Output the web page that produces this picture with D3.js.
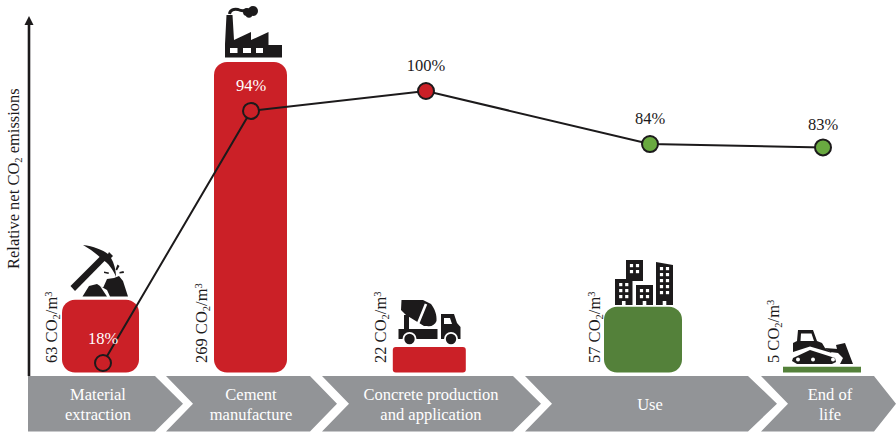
<!DOCTYPE html>
<html><head><meta charset="utf-8">
<script src="https://cdn.jsdelivr.net/npm/d3@7/dist/d3.min.js"></script>
<style>
html,body{margin:0;padding:0;background:#fff}
svg{display:block}
text{font-family:"Liberation Serif","Times New Roman",serif}
</style></head><body><svg id="c" width="896" height="432"></svg>
<script>
// ---- data ----
const stages = ["Material extraction","Cement manufacture","Concrete production and application","Use","End of life"];
const stageLines = [["Material","extraction"],["Cement","manufacture"],["Concrete production","and application"],["Use"],["End of","life"]];
const emissions = [63,269,22,57,5];
const relative = [18,94,100,84,83];
const barKinds = ["emit","emit","emit","saving","saving"];
const nodeKinds = ["emit","emit","emit","saving","saving"];
const yAxisWords = ["Relative net CO","2"," emissions"];

// ---- layout ----
const RED="#cb2027", GREEN="#54813a", NODEGREEN="#69a940", GREY="#929497", INK="#1c1a1b";
const color = d3.scaleOrdinal(["emit","saving"],[RED,GREEN]);
const nodeColor = d3.scaleOrdinal(["emit","saving"],[RED,NODEGREEN]);
const barCenter = d3.scaleOrdinal(stages,[100.5,250.5,429.3,643,822]);
const barWidth = d3.scaleOrdinal(stages,[77,73,73,78,78]);
const nodeX = d3.scaleOrdinal(stages,[103,251,426,650,823]);
const unitLabelX = d3.scaleOrdinal(stages,[57,207,386,600,779]);
const yBar = d3.scaleLinear().domain([0,269]).range([372.5,62]);
const yPct = d3.scaleLinear().domain([18,100]).range([363,91]);
const pctLabelY = d3.scaleOrdinal(stages,[344,91,71,124,130]);
const chevY=[376,431.5], chevMid=403.7;
// [left top x, notch x, right top x, tip x]
const chevGeom=[[28,28,155,183],[166,193,310,337],[322,349,513,541],[525,552,748,777],[761,788,874,896]];
const chevTextX=[98,251,431,650,830];
const FS=16.5;

const svg=d3.select("#c");

// chevrons
const chev=svg.append("g");
chevGeom.forEach((g,i)=>{
  chev.append("path").attr("fill",GREY)
    .attr("d",d3.line()([[g[0],chevY[0]],[g[2],chevY[0]],[g[3],chevMid],[g[2],chevY[1]],[g[0],chevY[1]],[g[1],chevMid]])+"Z");
  const L=stageLines[i];
  L.forEach((t,k)=>{
    chev.append("text").attr("x",chevTextX[i]).attr("text-anchor","middle")
      .attr("y",L.length==1?410:400+k*20).attr("font-size",FS).attr("fill","#fff").text(t);
  });
});

// axis
svg.append("path").attr("d","M29 376V24").attr("stroke",INK).attr("stroke-width",2.6).attr("fill","none");
svg.append("path").attr("d","M29 16L33.5 25H24.5Z").attr("fill",INK);
const yt=svg.append("text").attr("transform","translate(19,269) rotate(-90)").attr("font-size",FS).attr("fill",INK);
yt.append("tspan").text(yAxisWords[0]);
yt.append("tspan").attr("dy",3).attr("font-size",10.5).text(yAxisWords[1]);
yt.append("tspan").attr("dy",-3).text(yAxisWords[2]);

// bars
svg.append("g").selectAll("rect").data(stages).join("rect")
  .attr("x",d=>barCenter(d)-barWidth(d)/2)
  .attr("width",d=>barWidth(d))
  .attr("y",(d,i)=>yBar(emissions[i]))
  .attr("height",(d,i)=>yBar(0)-yBar(emissions[i]))
  .attr("rx",(d,i)=>{const h=yBar(0)-yBar(emissions[i]);return h>50?13:h>20?3:0;})
  .attr("fill",(d,i)=>color(barKinds[i]));

// unit labels
stages.forEach((s,i)=>{
  const t=svg.append("text").attr("transform",`translate(${unitLabelX(s)},363) rotate(-90)`).attr("font-size",FS).attr("fill",INK);
  t.append("tspan").text(emissions[i]+" CO");
  t.append("tspan").attr("dy",3).attr("font-size",10.5).text("2");
  t.append("tspan").attr("dy",-3).text("/m");
  t.append("tspan").attr("dy",-5).attr("font-size",10.5).text("3");
});

// line + nodes
svg.append("path").attr("fill","none").attr("stroke",INK).attr("stroke-width",2)
  .attr("d",d3.line().x(d=>nodeX(d.s)).y(d=>yPct(d.v))(stages.map((s,i)=>({s,v:relative[i]}))));
svg.append("g").selectAll("circle").data(stages).join("circle")
  .attr("cx",d=>nodeX(d)).attr("cy",(d,i)=>yPct(relative[i])).attr("r",8)
  .attr("stroke",INK).attr("stroke-width",2)
  .attr("fill",(d,i)=>nodeColor(nodeKinds[i]));
svg.append("g").selectAll("text").data(stages).join("text")
  .attr("x",d=>nodeX(d)).attr("y",d=>pctLabelY(d))
  .attr("text-anchor","middle").attr("font-size",FS)
  .attr("fill",(d,i)=>i<2?"#fff":INK).text((d,i)=>relative[i]+"%");

// ---- icons (decoration) ----
const ic=svg.append("g").attr("fill",INK);
// pickaxe
ic.append("path").attr("d","M70.5 286L102 254.5L106.5 259L75 291Z");
ic.append("path").attr("d","M83 245C93 246 103 250 108 254L109 252L113 256L111 258C114 263 116 270 116 277C113 269 108 263 103 260C97 254 90 249 83 245Z");
ic.append("path").attr("d","M82.5 296.5L89 286L97 284L103 288L107 279L114 278L119 276L123 281L128 296.5H110L107 290L100 286L107 296.5Z");
ic.append("path").attr("d","M117.5 264.5L119.5 266L117 270.5L115.5 269.5Z M123.5 271L124 273L119.5 273.5L119.5 272Z M104 271.5L109 272.5L108.5 274L104 273Z");
// factory
ic.append("path").attr("fill-rule","evenodd").attr("d","M225 57.5V44L226.5 15H232.5L234 40L251 32V40L268.5 32V45H282V57.5Z M230 48V53H237.5V48Z M243 48V53H251V48Z M256 48V53H263V48Z");
ic.append("path").attr("fill","none").attr("stroke",INK).attr("stroke-width",3).attr("d","M229.5 14C230 10 234 8.5 238 9.5C241 11 244 11 247 10");
ic.append("circle").attr("cx",253).attr("cy",11).attr("r",5);
ic.append("circle").attr("cx",247).attr("cy",12).attr("r",4);
ic.append("circle").attr("cx",249).attr("cy",14.5).attr("r",3.2);
// truck
ic.append("path").attr("d","M401.5 300H423L431 304C435 309 437 315 436.5 321C435 325 431 327 427 326L424 326L406 315L401 310Z");
ic.append("path").attr("stroke","#fff").attr("stroke-width",2.6).attr("d","M426 304L417 326");
ic.append("path").attr("d","M404 315H409L409 329H404Z");
ic.append("path").attr("d","M398.5 329H437.5V339H398.5Z");
ic.append("path").attr("fill-rule","evenodd").attr("d","M441 314H454L457 323L460.5 327V339H441Z M444 318V324H452L450 318Z");
[409.5,451].forEach(x=>{
  ic.append("circle").attr("cx",x).attr("cy",339).attr("r",7).attr("fill","#fff");
  ic.append("circle").attr("cx",x).attr("cy",339).attr("r",5.2);
});
// buildings: [x0,y-left,x1,y-right,bottom,rows,door]
const bld=[[615,279,632.5,279,305,3,1],[626,260,643,260,281,2,0],[636,285,653,285,305,2,1],[656,262,673,265,305,5,1]];
bld.forEach(b=>{
  ic.append("path").attr("d",`M${b[0]} ${b[1]}L${b[2]} ${b[3]}V${b[4]}H${b[0]}Z`);
  const W=b[2]-b[0];
  for(let c=0;c<2;c++)for(let r=0;r<b[5];r++){
    ic.append("rect").attr("fill","#fff").attr("width",3.2).attr("height",3.2)
      .attr("x",b[0]+W/2-4.6+c*6).attr("y",b[1]+(b[1]==262?5:4)+r*6);
  }
  if(b[6]) ic.append("rect").attr("fill","#fff").attr("x",b[0]+W/2-1.8).attr("y",301).attr("width",3.6).attr("height",4);
});
// bulldozer
ic.append("path").attr("fill-rule","evenodd").attr("d","M793 352L793 343L797 341L798 330H813L817 341L822 343L825 348L832 353L810 346.5Z M801 333.5L800.5 341H814L811.5 333.5Z");
ic.append("path").attr("d","M793 358L810 350L835 358L836 362L832 364H797L792 361Z");
[798,813,833].forEach(x=>ic.append("circle").attr("cx",x).attr("cy",359.5).attr("r",2).attr("fill","#fff"));
ic.append("path").attr("d","M836 345L845 343L853 364H840L843 358L838 353Z");
ic.append("path").attr("d","M825 348L838 349L838 353L830 352Z");
</script></body></html>
